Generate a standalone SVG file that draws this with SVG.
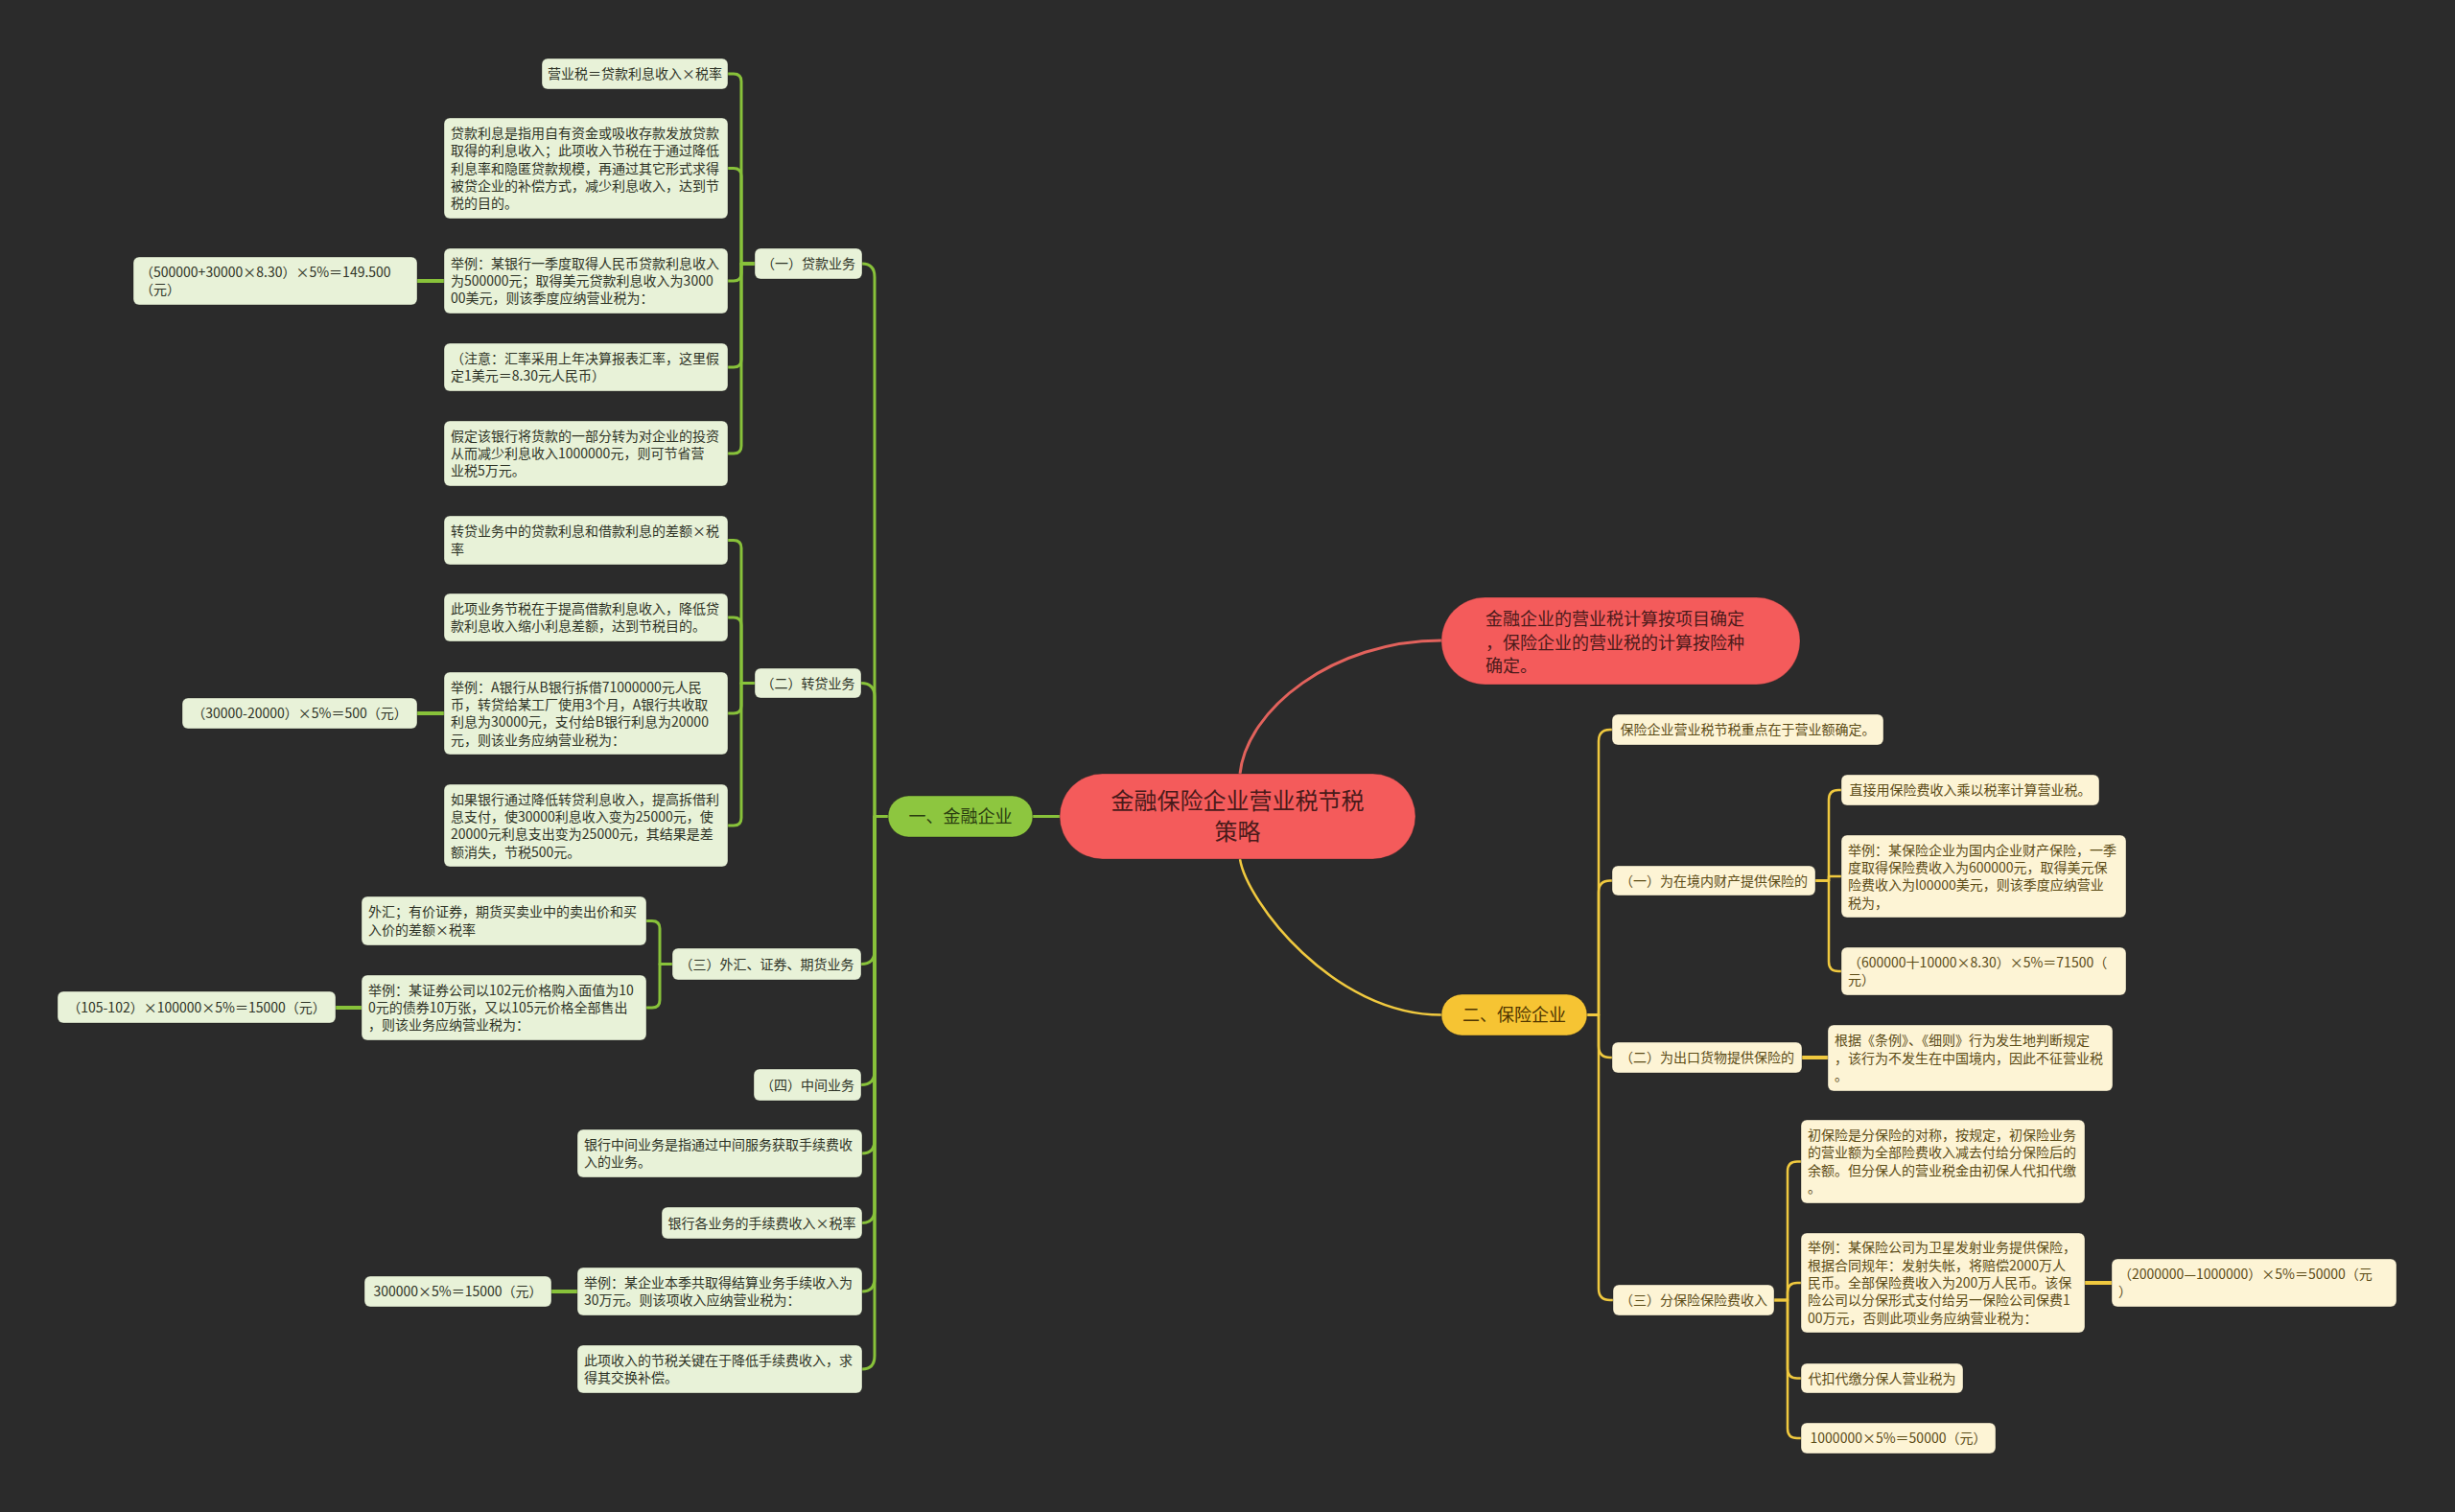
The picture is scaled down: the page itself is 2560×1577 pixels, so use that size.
<svg xmlns="http://www.w3.org/2000/svg" width="2560" height="1577" viewBox="0 0 2560 1577">
<style>
text{font-family:'Noto Sans CJK SC','Noto Sans',sans-serif;}
.gl{fill:#e8f2d8;stroke:#1a1a1a;stroke-opacity:.35;stroke-width:1;}
.yl{fill:#fdf4d5;stroke:#1a1a1a;stroke-opacity:.35;stroke-width:1;}
.tg{font-size:14px;fill:#2e3326;}
.ty{font-size:14px;fill:#5b4b16;}
.c{text-anchor:middle;}
.lg{fill:none;stroke:#88c23a;stroke-width:3;stroke-linejoin:round;}
.lgt{fill:none;stroke:#88c23a;stroke-width:4;}
.ly{fill:none;stroke:#f0c93f;stroke-width:2.5;stroke-linejoin:round;}
.lyt{fill:none;stroke:#f0c93f;stroke-width:4;}
.lr{fill:none;stroke:#e2625c;stroke-width:3;}
</style>
<rect x="0" y="0" width="2560" height="1577" fill="#2b2b2b"/>

<g id="connectors">
<path class="lr" d="M1293,807 C1300,740 1390,668 1503,668"/>
<path class="ly" d="M1293,896 C1300,940 1390,1058.5 1503,1058.5"/>
<path class="lg" d="M1105,851.5 H1077"/>
<!-- level 2 left -->
<path class="lg" d="M899,275 Q912,275 912,289 V851.5 H926"/>
<path class="lg" d="M898,712.5 Q912,712.5 912,726.5 V851.5 H926"/>
<path class="lg" d="M898,1005.5 Q912,1005.5 912,991.5 V851.5 H926"/>
<path class="lg" d="M898,1131.5 Q912,1131.5 912,1117.5 V851.5 H926"/>
<path class="lg" d="M899,1203 Q912,1203 912,1189 V851.5 H926"/>
<path class="lg" d="M899,1275.5 Q912,1275.5 912,1261.5 V851.5 H926"/>
<path class="lg" d="M899,1347 Q912,1347 912,1333 V851.5 H926"/>
<path class="lg" d="M899,1428 Q912,1428 912,1414 V851.5 H926"/>
<!-- (一) -->
<path class="lg" d="M787,275 H773 V85 Q773,77 765,77 H759"/>
<path class="lg" d="M787,275 H773 V183.5 Q773,175.5 765,175.5 H759"/>
<path class="lg" d="M787,275 H773 V285 Q773,293 765,293 H759"/>
<path class="lg" d="M787,275 H773 V375 Q773,383 765,383 H759"/>
<path class="lg" d="M787,275 H773 V465 Q773,473 765,473 H759"/>
<path class="lgt" d="M463,293 H435"/>
<!-- (二) -->
<path class="lg" d="M787,712.5 H773 V571.5 Q773,563.5 765,563.5 H759"/>
<path class="lg" d="M787,712.5 H773 V652 Q773,644 765,644 H759"/>
<path class="lg" d="M787,712.5 H773 V736 Q773,744 765,744 H759"/>
<path class="lg" d="M787,712.5 H773 V853 Q773,861 765,861 H759"/>
<path class="lgt" d="M463,744 H435"/>
<!-- (三) -->
<path class="lg" d="M701,1005.5 H688 V968.5 Q688,960.5 680,960.5 H674"/>
<path class="lg" d="M701,1005.5 H688 V1043 Q688,1051 680,1051 H674"/>
<path class="lgt" d="M377,1051 H350"/>
<path class="lgt" d="M602,1347 H575"/>
<!-- right -->
<path class="ly" d="M1655,1058.5 H1667 V773 Q1667,761 1679,761 H1681"/>
<path class="ly" d="M1655,1058.5 H1667 V930.5 Q1667,918.5 1679,918.5 H1681"/>
<path class="ly" d="M1655,1058.5 H1667 V1091 Q1667,1103 1679,1103 H1681"/>
<path class="ly" d="M1655,1058.5 H1667 V1344 Q1667,1356 1679,1356 H1682"/>
<path class="ly" d="M1893,918.5 H1907 V834 Q1907,824 1917,824 H1920"/>
<path class="ly" d="M1893,918.5 H1907 V914 H1920"/>
<path class="ly" d="M1893,918.5 H1907 V1003 Q1907,1013 1917,1013 H1920"/>
<path class="lyt" d="M1879,1103 H1906"/>
<path class="ly" d="M1850,1356 H1864 V1221.5 Q1864,1211.5 1874,1211.5 H1878"/>
<path class="ly" d="M1850,1356 H1864 V1348 Q1864,1338 1874,1338 H1878"/>
<path class="ly" d="M1850,1356 H1864 V1427.5 Q1864,1437.5 1874,1437.5 H1878"/>
<path class="ly" d="M1850,1356 H1864 V1490 Q1864,1500 1874,1500 H1878"/>
<path class="lyt" d="M2174,1338 H2202"/>
</g>

<g id="root">
<rect x="1105" y="807" width="371" height="89" rx="44.5" fill="#f45b5b" stroke="#1a1a1a" stroke-opacity=".3"/>
<text x="1290.5" y="844" class="c" font-size="24" fill="#4a1a1a">金融保险企业营业税节税</text>
<text x="1290.5" y="876" class="c" font-size="24" fill="#4a1a1a">策略</text>
</g>

<g id="top-note">
<rect x="1503" y="623" width="374" height="91" rx="45.5" fill="#f45b5b" stroke="#1a1a1a" stroke-opacity=".3"/>
<text x="1549" y="652" font-size="18" fill="#4a1a1a">金融企业的营业税计算按项目确定</text>
<text x="1549" y="676.5" font-size="18" fill="#4a1a1a">，保险企业的营业税的计算按险种</text>
<text x="1549" y="701" font-size="18" fill="#4a1a1a">确定。</text>
</g>

<g id="branch-finance">
<rect x="926" y="830" width="151" height="43" rx="21.5" fill="#8dc63f" stroke="#1a1a1a" stroke-opacity=".4"/>
<text x="1001.5" y="858" class="c" font-size="18" fill="#2a3d10">一、金融企业</text>
</g>

<g id="branch-insurance">
<rect x="1503" y="1037" width="152" height="43" rx="21.5" fill="#f6c433" stroke="#1a1a1a" stroke-opacity=".4"/>
<text x="1579" y="1065" class="c" font-size="18" fill="#4f3500">二、保险企业</text>
</g>

<!-- (一) 贷款业务 -->
<g id="loan">
<rect class="gl" x="787" y="259" width="112" height="32" rx="6"/>
<text class="tg c" x="843" y="280">（一）贷款业务</text>
</g>
<g id="loan-1">
<rect class="gl" x="565" y="61" width="194" height="32" rx="6"/>
<text class="tg c" x="662" y="82">营业税＝贷款利息收入×税率</text>
</g>
<g id="loan-2">
<rect class="gl" x="463" y="123" width="296" height="105" rx="6"/>
<text class="tg" x="470" y="143.9">贷款利息是指用自有资金或吸收存款发放贷款</text>
<text class="tg" x="470" y="162.2">取得的利息收入；此项收入节税在于通过降低</text>
<text class="tg" x="470" y="180.5">利息率和隐匿贷款规模，再通过其它形式求得</text>
<text class="tg" x="470" y="198.8">被贷企业的补偿方式，减少利息收入，达到节</text>
<text class="tg" x="470" y="217.1">税的目的。</text>
</g>
<g id="loan-3">
<rect class="gl" x="463" y="259" width="296" height="68" rx="6"/>
<text class="tg" x="470" y="279.7">举例：某银行一季度取得人民币贷款利息收入</text>
<text class="tg" x="470" y="298">为500000元；取得美元贷款利息收入为3000</text>
<text class="tg" x="470" y="316.3">00美元，则该季度应纳营业税为：</text>
</g>
<g id="loan-3-calc">
<rect class="gl" x="139" y="268" width="296" height="50" rx="6"/>
<text class="tg" x="146" y="288.9">（500000+30000×8.30）×5%＝149.500</text>
<text class="tg" x="146" y="307.2">（元）</text>
</g>
<g id="loan-4">
<rect class="gl" x="463" y="358" width="296" height="50" rx="6"/>
<text class="tg" x="470" y="378.9">（注意：汇率采用上年决算报表汇率，这里假</text>
<text class="tg" x="470" y="397.2">定1美元＝8.30元人民币）</text>
</g>
<g id="loan-5">
<rect class="gl" x="463" y="439" width="296" height="68" rx="6"/>
<text class="tg" x="470" y="459.7">假定该银行将货款的一部分转为对企业的投资</text>
<text class="tg" x="470" y="478">从而减少利息收入1000000元，则可节省营</text>
<text class="tg" x="470" y="496.3">业税5万元。</text>
</g>

<!-- (二) 转贷业务 -->
<g id="relend">
<rect class="gl" x="787" y="697" width="111" height="31" rx="6"/>
<text class="tg c" x="842.5" y="717.5">（二）转贷业务</text>
</g>
<g id="relend-1">
<rect class="gl" x="463" y="538" width="296" height="51" rx="6"/>
<text class="tg" x="470" y="559.4">转贷业务中的贷款利息和借款利息的差额×税</text>
<text class="tg" x="470" y="577.7">率</text>
</g>
<g id="relend-2">
<rect class="gl" x="463" y="619" width="296" height="50" rx="6"/>
<text class="tg" x="470" y="639.9">此项业务节税在于提高借款利息收入，降低贷</text>
<text class="tg" x="470" y="658.2">款利息收入缩小利息差额，达到节税目的。</text>
</g>
<g id="relend-3">
<rect class="gl" x="463" y="701" width="296" height="86" rx="6"/>
<text class="tg" x="470" y="721.6">举例：A银行从B银行拆借71000000元人民</text>
<text class="tg" x="470" y="739.9">币，转贷给某工厂使用3个月，A银行共收取</text>
<text class="tg" x="470" y="758.2">利息为30000元，支付给B银行利息为20000</text>
<text class="tg" x="470" y="776.5">元，则该业务应纳营业税为：</text>
</g>
<g id="relend-3-calc">
<rect class="gl" x="190" y="728" width="245" height="32" rx="6"/>
<text class="tg c" x="312.5" y="749">（30000-20000）×5%＝500（元）</text>
</g>
<g id="relend-4">
<rect class="gl" x="463" y="818" width="296" height="86" rx="6"/>
<text class="tg" x="470" y="838.6">如果银行通过降低转贷利息收入，提高拆借利</text>
<text class="tg" x="470" y="856.9">息支付，使30000利息收入变为25000元，使</text>
<text class="tg" x="470" y="875.2">20000元利息支出变为25000元，其结果是差</text>
<text class="tg" x="470" y="893.5">额消失，节税500元。</text>
</g>

<!-- (三) -->
<g id="fx">
<rect class="gl" x="701" y="989" width="197" height="33" rx="6"/>
<text class="tg c" x="799.5" y="1010.5">（三）外汇、证券、期货业务</text>
</g>
<g id="fx-1">
<rect class="gl" x="377" y="935" width="297" height="51" rx="6"/>
<text class="tg" x="384" y="956.4">外汇；有价证券，期货买卖业中的卖出价和买</text>
<text class="tg" x="384" y="974.7">入价的差额×税率</text>
</g>
<g id="fx-2">
<rect class="gl" x="377" y="1017" width="297" height="68" rx="6"/>
<text class="tg" x="384" y="1037.7">举例：某证券公司以102元价格购入面值为10</text>
<text class="tg" x="384" y="1056">0元的债券10万张，又以105元价格全部售出</text>
<text class="tg" x="384" y="1074.3">，则该业务应纳营业税为：</text>
</g>
<g id="fx-2-calc">
<rect class="gl" x="60" y="1034" width="290" height="33" rx="6"/>
<text class="tg c" x="205" y="1055.5">（105-102）×100000×5%＝15000（元）</text>
</g>

<!-- (四) and siblings -->
<g id="mid">
<rect class="gl" x="786" y="1115" width="112" height="33" rx="6"/>
<text class="tg c" x="842" y="1136.5">（四）中间业务</text>
</g>
<g id="mid-1">
<rect class="gl" x="602" y="1178" width="297" height="50" rx="6"/>
<text class="tg" x="609" y="1198.9">银行中间业务是指通过中间服务获取手续费收</text>
<text class="tg" x="609" y="1217.2">入的业务。</text>
</g>
<g id="mid-2">
<rect class="gl" x="690" y="1259" width="209" height="33" rx="6"/>
<text class="tg c" x="794.5" y="1280.5">银行各业务的手续费收入×税率</text>
</g>
<g id="mid-3">
<rect class="gl" x="602" y="1322" width="297" height="50" rx="6"/>
<text class="tg" x="609" y="1342.9">举例：某企业本季共取得结算业务手续收入为</text>
<text class="tg" x="609" y="1361.2">30万元。则该项收入应纳营业税为：</text>
</g>
<g id="mid-3-calc">
<rect class="gl" x="380" y="1331" width="195" height="32" rx="6"/>
<text class="tg c" x="477.5" y="1352">300000×5%＝15000（元）</text>
</g>
<g id="mid-4">
<rect class="gl" x="602" y="1403" width="297" height="50" rx="6"/>
<text class="tg" x="609" y="1423.9">此项收入的节税关键在于降低手续费收入，求</text>
<text class="tg" x="609" y="1442.2">得其交换补偿。</text>
</g>

<!-- right side -->
<g id="ins-0">
<rect class="yl" x="1681" y="745" width="283" height="32" rx="6"/>
<text class="ty c" x="1822.5" y="766">保险企业营业税节税重点在于营业额确定。</text>
</g>
<g id="ins-1">
<rect class="yl" x="1681" y="903" width="212" height="31" rx="6"/>
<text class="ty c" x="1787" y="923.5">（一）为在境内财产提供保险的</text>
</g>
<g id="ins-1a">
<rect class="yl" x="1920" y="808" width="269" height="32" rx="6"/>
<text class="ty c" x="2054.5" y="829">直接用保险费收入乘以税率计算营业税。</text>
</g>
<g id="ins-1b">
<rect class="yl" x="1920" y="871" width="297" height="86" rx="6"/>
<text class="ty" x="1927" y="891.6">举例：某保险企业为国内企业财产保险，一季</text>
<text class="ty" x="1927" y="909.9">度取得保险费收入为600000元，取得美元保</text>
<text class="ty" x="1927" y="928.2">险费收入为l00000美元，则该季度应纳营业</text>
<text class="ty" x="1927" y="946.5">税为，</text>
</g>
<g id="ins-1c">
<rect class="yl" x="1920" y="988" width="297" height="50" rx="6"/>
<text class="ty" x="1927" y="1008.9">（600000十10000×8.30）×5%＝71500（</text>
<text class="ty" x="1927" y="1027.2">元）</text>
</g>
<g id="ins-2">
<rect class="yl" x="1681" y="1087" width="198" height="32" rx="6"/>
<text class="ty c" x="1780" y="1108">（二）为出口货物提供保险的</text>
</g>
<g id="ins-2a">
<rect class="yl" x="1906" y="1069" width="297" height="69" rx="6"/>
<text class="ty" x="1913" y="1090.2">根据《条例》、《细则》行为发生地判断规定</text>
<text class="ty" x="1913" y="1108.5">，该行为不发生在中国境内，因此不征营业税</text>
<text class="ty" x="1913" y="1126.8">。</text>
</g>
<g id="ins-3">
<rect class="yl" x="1682" y="1340" width="168" height="32" rx="6"/>
<text class="ty c" x="1766" y="1361">（三）分保险保险费收入</text>
</g>
<g id="ins-3a">
<rect class="yl" x="1878" y="1168" width="296" height="87" rx="6"/>
<text class="ty" x="1885" y="1189.1">初保险是分保险的对称，按规定，初保险业务</text>
<text class="ty" x="1885" y="1207.4">的营业额为全部险费收入减去付给分保险后的</text>
<text class="ty" x="1885" y="1225.7">余额。但分保人的营业税金由初保人代扣代缴</text>
<text class="ty" x="1885" y="1244">。</text>
</g>
<g id="ins-3b">
<rect class="yl" x="1878" y="1286" width="296" height="104" rx="6"/>
<text class="ty" x="1885" y="1306.4">举例：某保险公司为卫星发射业务提供保险，</text>
<text class="ty" x="1885" y="1324.7">根据合同规年：发射失帐，将赔偿2000万人</text>
<text class="ty" x="1885" y="1343">民币。全部保险费收入为200万人民币。该保</text>
<text class="ty" x="1885" y="1361.3">险公司以分保形式支付给另一保险公司保费1</text>
<text class="ty" x="1885" y="1379.6">00万元，否则此项业务应纳营业税为：</text>
</g>
<g id="ins-3b-calc">
<rect class="yl" x="2202" y="1313" width="297" height="50" rx="6"/>
<text class="ty" x="2209" y="1333.9">（2000000—1000000）×5%＝50000（元</text>
<text class="ty" x="2209" y="1352.2">）</text>
</g>
<g id="ins-3c">
<rect class="yl" x="1878" y="1422" width="169" height="31" rx="6"/>
<text class="ty c" x="1962.5" y="1442.5">代扣代缴分保人营业税为</text>
</g>
<g id="ins-3d">
<rect class="yl" x="1878" y="1484" width="203" height="32" rx="6"/>
<text class="ty c" x="1979.5" y="1505">1000000×5%＝50000（元）</text>
</g>
</svg>
